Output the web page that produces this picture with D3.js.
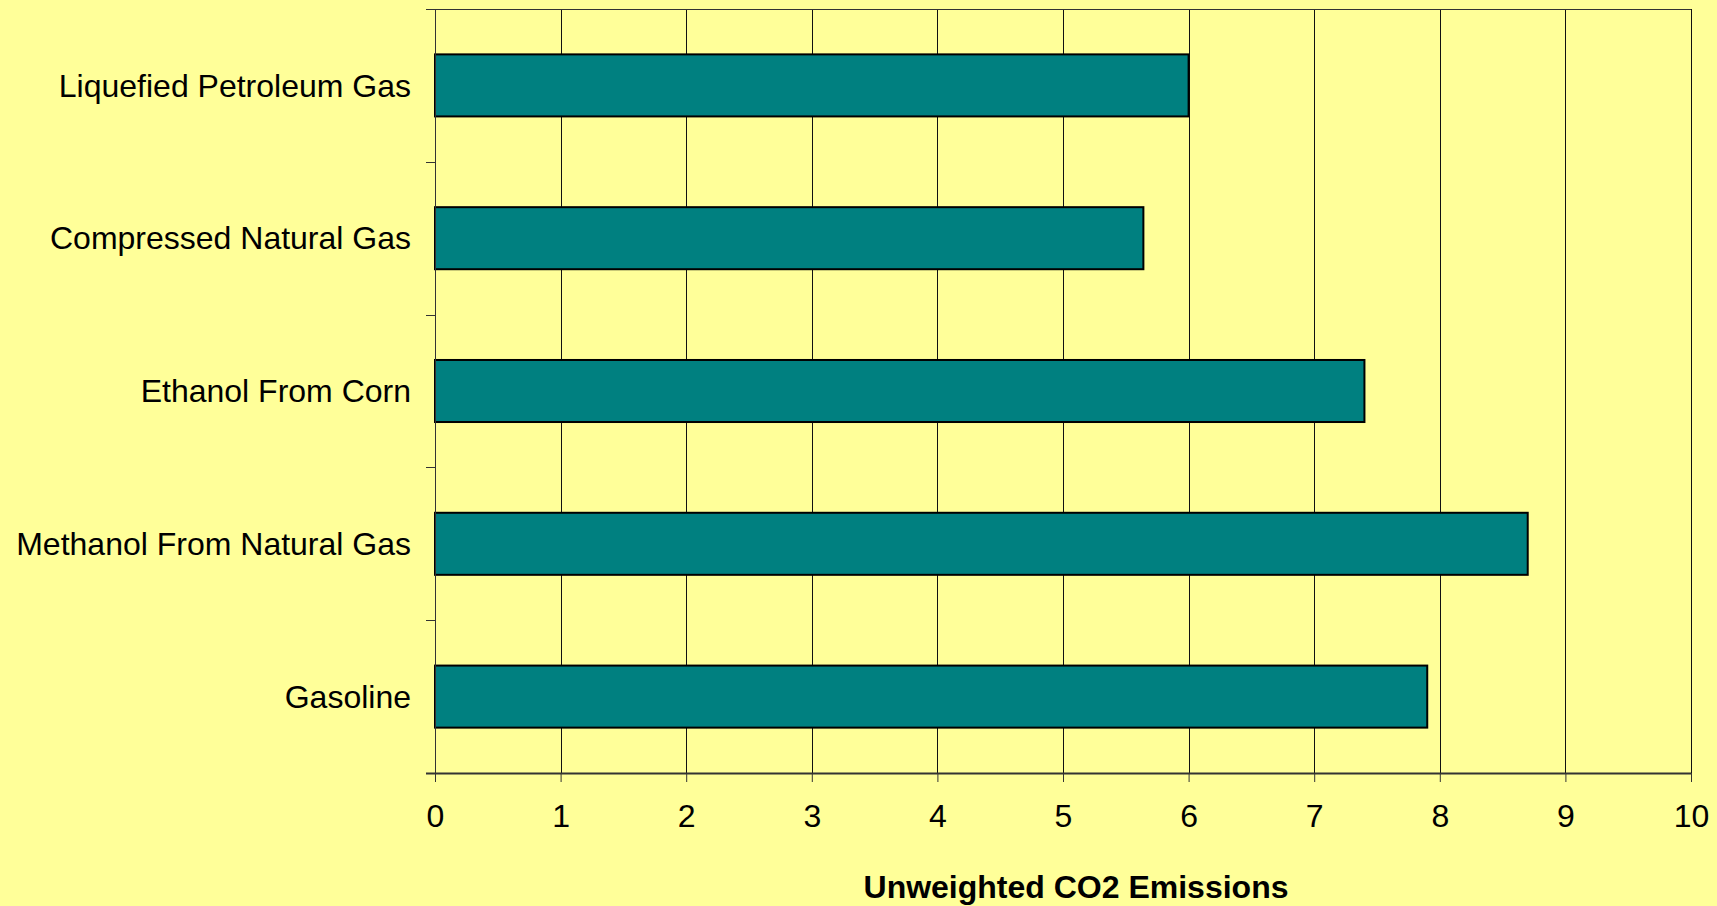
<!DOCTYPE html>
<html lang="en">
  <head>
    <meta charset="utf-8">
    <title>Unweighted CO2 Emissions</title>
    <style>
        html, body {
            margin: 0;
            padding: 0;
            background: #ffff99;
        }
        svg {
            display: block;
            font-family: "Liberation Sans", Arial, sans-serif;
        }
    </style>
    <script src="https://d3js.org/d3.v7.min.js"></script>
  </head>
  <body>
    <script>

    // data, top to bottom as drawn
    const fuels = ["Liquefied Petroleum Gas", "Compressed Natural Gas", "Ethanol From Corn",
                   "Methanol From Natural Gas", "Gasoline"];
    const emissions = [6.0, 5.64, 7.4, 8.7, 7.9];
    const xTicks = [0, 1, 2, 3, 4, 5, 6, 7, 8, 9, 10];
    const xTitle = "Unweighted CO2 Emissions";

    const W = 1717, H = 906;
    const margin = { top: 9, left: 435, bottom: 133, right: 26 },
        width = W - margin.left - margin.right,
        height = H - margin.top - margin.bottom;

    const svg = d3.select("body")
        .append("svg")
        .attr("width", W)
        .attr("height", H)
        .style("background-color", "#ffff99");

    const g = svg.append("g")
        .attr("transform", `translate(${margin.left},${margin.top})`);

    const x = d3.scaleLinear()
        .domain([0, 10])
        .range([0, width]);

    const y = d3.scaleBand()
        .domain(fuels)
        .range([0, height])
        .paddingInner(0.594)
        .paddingOuter(0.297);

    // vertical gridlines
    g.append("g")
        .selectAll("line")
        .data(xTicks.slice(1))
        .join("line")
        .attr("x1", d => Math.round(x(d)) + 0.5)
        .attr("x2", d => Math.round(x(d)) + 0.5)
        .attr("y1", 0)
        .attr("y2", height)
        .attr("stroke", "#111")
        .attr("stroke-width", 1);

    // top border
    g.append("line")
        .attr("x1", -9).attr("x2", width)
        .attr("y1", 0.5).attr("y2", 0.5)
        .attr("stroke", "#333");

    // bars
    g.append("g")
        .selectAll("rect")
        .data(fuels)
        .join("rect")
        .attr("x", x(0))
        .attr("y", d => y(d))
        .attr("width", (d, i) => x(emissions[i]) - x(0))
        .attr("height", y.bandwidth())
        .attr("fill", "#008080")
        .attr("stroke", "#000")
        .attr("stroke-width", 2);

    // category axis: ticks at band boundaries
    const step = height / fuels.length;
    const boundaries = d3.range(fuels.length + 1).map(i => i * step);
    g.append("g")
        .selectAll("line")
        .data(boundaries)
        .join("line")
        .attr("x1", -9).attr("x2", 0)
        .attr("y1", d => Math.round(d) + 0.5)
        .attr("y2", d => Math.round(d) + 0.5)
        .attr("stroke", "#333");
    g.append("line")
        .attr("x1", 0.5).attr("x2", 0.5)
        .attr("y1", 0).attr("y2", height)
        .attr("stroke", "#333");

    g.append("g")
        .selectAll("text")
        .data(fuels)
        .join("text")
        .attr("x", -24)
        .attr("y", d => y(d) + y.bandwidth() / 2)
        .attr("dy", "0.35em")
        .attr("text-anchor", "end")
        .style("font-size", "32px")
        .style("fill", "#000")
        .text(d => d);

    // value axis
    const xAxis = g.append("g")
        .attr("transform", `translate(0,${height})`)
        .call(d3.axisBottom(x).tickValues(xTicks).tickSize(9).tickPadding(22).tickFormat(d3.format("d")));
    xAxis.select(".domain").remove();
    xAxis.append("line")
        .attr("x1", -9).attr("x2", width)
        .attr("y1", 0.5).attr("y2", 0.5)
        .attr("stroke", "#333")
        .attr("stroke-width", 2);
    xAxis.selectAll(".tick line").attr("stroke", "#333");
    xAxis.selectAll(".tick text")
        .style("font-size", "32px")
        .style("font-family", "'Liberation Sans', Arial, sans-serif")
        .style("fill", "#000");

    svg.append("text")
        .attr("x", 1076)
        .attr("y", 898)
        .attr("text-anchor", "middle")
        .style("font-size", "32px")
        .style("font-weight", "bold")
        .style("fill", "#000")
        .text(xTitle);

    </script>
  </body>
</html>
